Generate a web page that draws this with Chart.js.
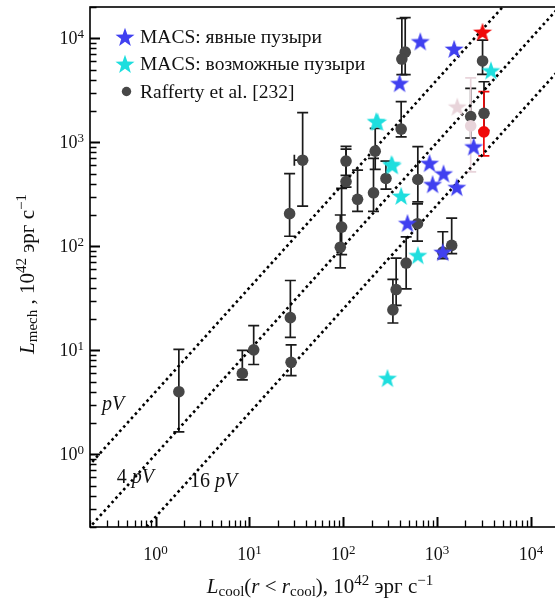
<!DOCTYPE html>
<html>
<head>
<meta charset="utf-8">
<script src="https://cdn.jsdelivr.net/npm/chart.js@4.4.1/dist/chart.umd.min.js"></script>
<style>
  html, body { margin: 0; padding: 0; background: #fff; overflow: hidden; }
  #wrap { width: 555px; height: 598px; overflow: hidden; }
</style>
</head>
<body>
<div id="wrap"><canvas id="lumChart" width="565" height="598"></canvas></div>
<script>
// Rafferty et al. [232]: cooling luminosity vs. mechanical (cavity) power, 10^42 erg/s
const raffertyCool   = [1.77, 8.4, 11.1, 27.3, 27.8, 26.8, 36.9, 107, 107, 96, 93, 142, 210, 219, 285, 414, 623, 618, 468, 366, 338, 1430, 1150, 457, 421, 3050, 2280, 3160];
const raffertyMech   = [4.0, 6.0, 10.1, 20.6, 7.66, 206, 673, 660, 420, 153, 98, 283, 327, 822, 449, 1340, 439, 165, 69, 38.4, 24.5, 102, 88, 7360, 6320, 6060, 1770, 1900];
const raffertyMechHi = [10.2, 10.0, 17.3, 46.9, 11.3, 500, 1930, 915, 860, 360, 200, 540, 700, 1360, 660, 2460, 907, 256, 123, 77, 48, 187, 138, 15800, 15500, 9600, 3300, 3820];
const raffertyMechLo = [1.64, 5.2, 7.3, 13.3, 5.7, 125, 243, 480, 370, 83, 62, 217, 217, 550, 355, 1130, 267, 112, 39, 27, 18.3, 85, 76, 4470, 4470, 4500, 1100, 1300];
const raffertyCoolLo = [null, null, null, null, null, null, 30.1, null, null, null, null, null, null, null, null, null, null, null, null, null, null, null, null, null, null, null, null, null];

// MACS clusters with clear cavities
const clearCool = [662, 1520, 398, 2450, 830, 1170, 895, 1620, 483, 1150];
const clearMech = [9330, 7900, 3700, 910, 630, 500, 395, 370, 167, 88];

// MACS clusters with possible cavities
const possibleCool = [224, 232, 326, 334, 414, 623, 3750, 296];
const possibleMech = [1590, 1570, 615, 600, 305, 82, 4900, 5.4];

// two highlighted systems (star = MACS estimate, circle = Rafferty estimate)
const redStarCool = [3050];
const redStarMech = [11500];
const redCircleCool = [3150];
const redCircleMech = [1260];
const redCircleHi = [3070];
const redCircleLo = [740];
const pinkStarCool = [1640];
const pinkStarMech = [2200];
const pinkCircleCool = [2280];
const pinkCircleMech = [1440];
const pinkCircleHi = [4160];
const pinkCircleLo = [520];

// enthalpy lines: L_mech = factor * L_cool
const pvFactors = [4, 1, 0.25];
const pvNames = ['pV', '4 pV', '16 pV'];
const lineEnds = [0.01, 1e6];

const serif = '"Liberation Serif", "Times New Roman", "DejaVu Serif", serif';
const font = (size, italic) => (italic ? 'italic ' : '') + size + 'px ' + serif;

const BLUE = 'rgb(64, 64, 240)';
const CYAN = 'rgb(30, 222, 222)';
const GREY = '#474747';
const RED = 'rgb(240, 10, 10)';
const PINK = 'rgb(232, 212, 218)';

function starImage(color, r) {
    const s = Math.ceil(r * 2 + 2);
    const c = document.createElement('canvas');
    c.width = s;
    c.height = s;
    const g = c.getContext('2d');
    g.translate(s / 2, s / 2 + r * 0.08);
    g.beginPath();
    for (let i = 0; i < 10; i++) {
        const rad = i % 2 ? r * 0.4 : r;
        const a = -Math.PI / 2 + i * Math.PI / 5;
        g.lineTo(rad * Math.cos(a), rad * Math.sin(a));
    }
    g.closePath();
    g.fillStyle = color;
    g.fill();
    return c;
}

function points(xs, ys) {
    return xs.map((x, i) => ({ x: x, y: ys[i] }));
}

function drawParts(ctx, parts, x, y, align) {
    let w = 0;
    parts.forEach(p => { ctx.font = p[1]; w += ctx.measureText(p[0]).width; });
    let cx = align === 'center' ? x - w / 2 : (align === 'right' ? x - w : x);
    ctx.textAlign = 'left';
    ctx.textBaseline = 'alphabetic';
    parts.forEach(p => {
        ctx.font = p[1];
        ctx.fillText(p[0], cx, y + (p[2] || 0));
        cx += ctx.measureText(p[0]).width;
    });
}

// vertical (and the odd horizontal) error bars, drawn under the markers
const errorBars = {
    id: 'errorBars',
    beforeDatasetsDraw(chart) {
        const { ctx, scales: { x, y } } = chart;
        ctx.save();
        chart.data.datasets.slice().reverse().forEach(ds => {
            if (!ds.errHi) return;
            ctx.strokeStyle = ds.errColor;
            ctx.lineWidth = 1.7;
            ds.data.forEach((p, i) => {
                const px = x.getPixelForValue(p.x);
                const py = y.getPixelForValue(p.y);
                const top = y.getPixelForValue(ds.errHi[i]);
                const bot = y.getPixelForValue(ds.errLo[i]);
                ctx.beginPath();
                ctx.moveTo(px, top); ctx.lineTo(px, bot);
                ctx.moveTo(px - 5.5, top); ctx.lineTo(px + 5.5, top);
                ctx.moveTo(px - 5.5, bot); ctx.lineTo(px + 5.5, bot);
                if (ds.errXLo && ds.errXLo[i]) {
                    const lx = x.getPixelForValue(ds.errXLo[i]);
                    ctx.moveTo(lx, py); ctx.lineTo(px, py);
                    ctx.moveTo(lx, py - 5.5); ctx.lineTo(lx, py + 5.5);
                }
                ctx.stroke();
            });
        });
        ctx.restore();
    }
};

// frame, inward log ticks, tick labels, axis titles, line labels and legend
const decorations = {
    id: 'decorations',
    afterDraw(chart) {
        const { ctx, chartArea: a, scales: { x, y } } = chart;
        ctx.save();
        ctx.strokeStyle = '#000';
        ctx.lineWidth = 1.6;
        ctx.strokeRect(a.left, a.top, a.right - a.left, a.bottom - a.top);

        for (let k = -1; k <= 4; k++) {
            for (let m = 1; m <= 9; m++) {
                const v = m * Math.pow(10, k);
                const len = m === 1 ? 10 : 6.5;
                ctx.lineWidth = m === 1 ? 2 : 1.3;
                ctx.beginPath();
                if (v >= x.min && v <= x.max) {
                    const px = Math.round(x.getPixelForValue(v)) + 0.5;
                    ctx.moveTo(px, a.bottom); ctx.lineTo(px, a.bottom - len);
                }
                if (v >= y.min && v <= y.max) {
                    const py = Math.round(y.getPixelForValue(v)) + 0.5;
                    ctx.moveTo(a.left, py); ctx.lineTo(a.left + len, py);
                }
                ctx.stroke();
            }
        }

        ctx.fillStyle = '#111';
        for (let k = 0; k <= 4; k++) {
            const v = Math.pow(10, k);
            const lab = [['10', font(18)], [String(k), font(13), -6]];
            drawParts(ctx, lab, x.getPixelForValue(v), a.bottom + 33, 'center');
            drawParts(ctx, lab, a.left - 6, y.getPixelForValue(v) + 6, 'right');
        }

        drawParts(ctx, [
            ['L', font(21, true)], ['cool', font(15), 3], ['(', font(21)], ['r', font(21, true)],
            [' < ', font(21)], ['r', font(21, true)], ['cool', font(15), 3], ['), 10', font(21)],
            ['42', font(15), -8], [' эрг с', font(21)], ['\u22121', font(15), -8]
        ], a.left + 230, a.bottom + 66, 'center');

        ctx.save();
        ctx.translate(34, 274);
        ctx.rotate(-Math.PI / 2);
        drawParts(ctx, [
            ['L', font(21, true)], ['mech', font(15), 3], [' , 10', font(21)],
            ['42', font(15), -8], [' эрг с', font(21)], ['\u22121', font(15), -8]
        ], 0, 0, 'center');
        ctx.restore();

        // labels of the enthalpy lines
        const lineLabelAt = [[0.268, 2.67], [0.385, 0.53], [2.32, 0.488]];
        pvNames.forEach((name, i) => {
            const parts = name.split(' ');
            const seq = parts.length > 1
                ? [[parts[0] + ' ', font(20)], [parts[1], font(20, true)]]
                : [[parts[0], font(20, true)]];
            drawParts(ctx, seq, x.getPixelForValue(lineLabelAt[i][0]), y.getPixelForValue(lineLabelAt[i][1]), 'left');
        });

        // legend
        const lx = a.left + 35;
        ctx.drawImage(legendStars[0], lx - legendStars[0].width / 2, a.top + 30 - legendStars[0].height / 2);
        ctx.drawImage(legendStars[1], lx - legendStars[1].width / 2, a.top + 57 - legendStars[1].height / 2);
        ctx.fillStyle = GREY;
        ctx.beginPath();
        ctx.arc(lx + 1.5, a.top + 84.5, 4.7, 0, Math.PI * 2);
        ctx.fill();
        ctx.fillStyle = '#111';
        drawParts(ctx, [['MACS: явные пузыри', font(19.5)]], lx + 15, a.top + 36, 'left');
        drawParts(ctx, [['MACS: возможные пузыри', font(19.5)]], lx + 15, a.top + 63, 'left');
        drawParts(ctx, [['Rafferty et al. [232]', font(19.5)]], lx + 15, a.top + 90.5, 'left');
        ctx.restore();
    }
};

const legendStars = [starImage(BLUE, 10), starImage(CYAN, 10)];

document.addEventListener('DOMContentLoaded', function () {
    const ctxLum = document.getElementById('lumChart').getContext('2d');

    const lineSets = pvFactors.map((f, i) => ({
        label: pvNames[i],
        data: lineEnds.map(v => ({ x: v, y: f * v })),
        showLine: true,
        borderColor: '#000',
        borderWidth: 2.6,
        borderDash: [2.6, 3.2],
        pointRadius: 0,
        fill: false
    }));

    new Chart(ctxLum, {
        type: 'scatter',
        data: {
            datasets: [
                {
                    label: 'red star',
                    data: points(redStarCool, redStarMech),
                    pointStyle: starImage(RED, 10)
                },
                {
                    label: 'pink star',
                    data: points(pinkStarCool, pinkStarMech),
                    pointStyle: starImage(PINK, 10)
                },
                {
                    label: 'MACS: явные пузыри',
                    data: points(clearCool, clearMech),
                    pointStyle: starImage(BLUE, 10)
                },
                {
                    label: 'MACS: возможные пузыри',
                    data: points(possibleCool, possibleMech),
                    pointStyle: starImage(CYAN, 10)
                },
                {
                    label: 'red circle',
                    data: points(redCircleCool, redCircleMech),
                    errHi: redCircleHi,
                    errLo: redCircleLo,
                    errColor: RED,
                    pointStyle: 'circle',
                    pointRadius: 5.8,
                    backgroundColor: RED,
                    borderWidth: 0
                },
                {
                    label: 'pink circle',
                    data: points(pinkCircleCool, pinkCircleMech),
                    errHi: pinkCircleHi,
                    errLo: pinkCircleLo,
                    errColor: PINK,
                    pointStyle: 'circle',
                    pointRadius: 5.8,
                    backgroundColor: PINK,
                    borderWidth: 0
                },
                {
                    label: 'Rafferty et al. [232]',
                    data: points(raffertyCool, raffertyMech),
                    errHi: raffertyMechHi,
                    errLo: raffertyMechLo,
                    errXLo: raffertyCoolLo,
                    errColor: '#1a1a1a',
                    pointStyle: 'circle',
                    pointRadius: 5.8,
                    backgroundColor: GREY,
                    borderWidth: 0
                }
            ].concat(lineSets)
        },
        options: {
            responsive: false,
            animation: false,
            devicePixelRatio: 1,
            layout: {
                padding: { left: 90, top: 7, right: 5, bottom: 71 }
            },
            scales: {
                x: { type: 'logarithmic', min: 0.2, max: 2e4, display: false },
                y: { type: 'logarithmic', min: 0.2, max: 2e4, display: false }
            },
            plugins: {
                legend: { display: false },
                tooltip: { enabled: false }
            }
        },
        plugins: [errorBars, decorations]
    });
});
</script>
</body>
</html>
